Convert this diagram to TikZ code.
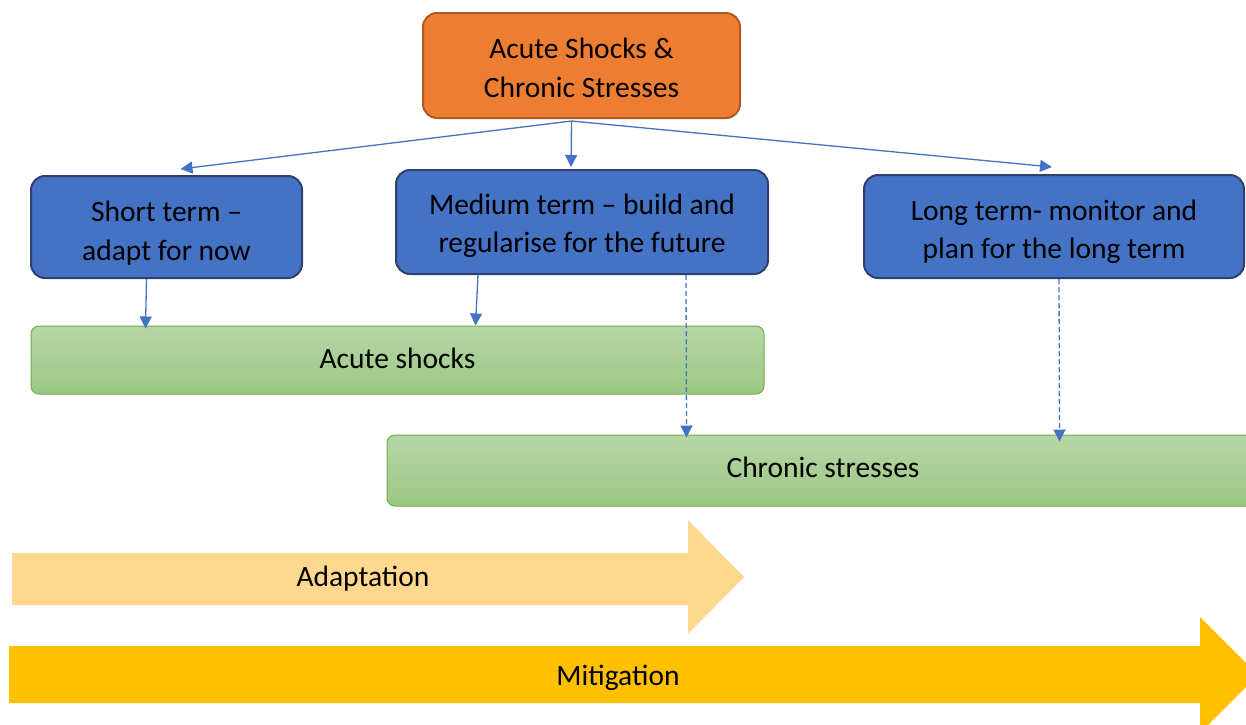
\documentclass[tikz,border=0pt]{standalone}
\usepackage{fontspec}
\setmainfont{Carlito}
\usetikzlibrary{calc,arrows.meta}
\definecolor{orangefill}{HTML}{ED7D31}
\definecolor{orangeline}{HTML}{AE5A21}
\definecolor{bluefill}{HTML}{4472C4}
\definecolor{blueline}{HTML}{2F3F6F}
\definecolor{greentop}{HTML}{B5D6A7}
\definecolor{greenbot}{HTML}{9CC883}
\definecolor{greenline}{HTML}{70AD47}
\definecolor{adaptcol}{HTML}{FFD88F}
\definecolor{mitigcol}{HTML}{FFC000}
\tikzset{
  txt/.style={font=\fontsize{29.5}{38.5}\selectfont, align=center, text=black, inner sep=0pt},
  topbox/.style={draw=orangeline, fill=orangefill, line width=2pt, rounded corners=14pt, inner sep=0pt},
  termbox/.style={draw=blueline, fill=bluefill, line width=2pt, rounded corners=14pt, inner sep=0pt},
  bar/.style={txt, draw=greenline, top color=greentop, bottom color=greenbot, line width=1pt, rounded corners=8pt, inner sep=0pt},
  conn/.style={draw=bluefill, line width=1.3pt, -{Triangle[length=12pt,width=12pt]}},
  dconn/.style={conn, dash pattern=on 5pt off 3pt},
}
\begin{document}
\begin{tikzpicture}[x=1pt,y=-1pt]
\useasboundingbox (0,0) rectangle (1246,724);
% boxes
\node[topbox, minimum width=317pt, minimum height=105pt] (top) at (581.5,65.5) {};
\node[txt] (toptext) at ($(top.center)+(0,2.5)$) {Acute Shocks \&\\Chronic Stresses};
\node[termbox, minimum width=271pt, minimum height=102pt] (short) at (166.5,227) {};
\node[txt] (shorttext) at ($(short.center)+(0,6)$) {Short term –\\adapt for now};
\node[termbox, minimum width=372pt, minimum height=104pt] (medium) at (582,222) {};
\node[txt] (mediumtext) at ($(medium.center)+(0,4)$) {Medium term – build and\\regularise for the future};
\node[termbox, minimum width=380pt, minimum height=103pt] (long) at (1054,226.5) {};
\node[txt] (longtext) at ($(long.center)+(0,5.5)$) {Long term- monitor and\\plan for the long term};
\node[bar, minimum width=733pt, minimum height=68pt] (acute) at (397.5,360) {};
\node[txt] (acutetext) at ($(acute.center)+(0,-2)$) {Acute shocks};
\node[bar, minimum width=876pt, minimum height=71pt] (chronic) at (825,470.5) {};
\node[txt] (chronictext) at (823,467) {Chronic stresses};
% big arrows
\fill[adaptcol] (12,553) -- (688,553) -- (688,520) -- (744,577) -- (688,634) -- (688,605) -- (12,605) -- cycle;
\node[txt] (adapt) at (363,579) {Adaptation};
\fill[mitigcol] (9,646) -- (1200,646) -- (1200,617) -- (1258,675) -- (1200,733) -- (1200,703) -- (9,703) -- cycle;
\node[txt] (mitig) at (618,678) {Mitigation};
% connectors
\coordinate (src) at ($(top.south)+(-10,2)$);
\draw[conn] (src) -- ($(short.north)+(14,-6)$);
\draw[conn] (src) -- ($(medium.north)+(-11,-2)$);
\draw[conn] (src) -- ($(long.north)+(-2,-7)$);
\draw[conn] ($(short.south)+(-20,0)$) -- ($(acute.north west)+(115,3)$);
\draw[conn] ($(medium.south)+(-104,0)$) -- ($(acute.north west)+(445,0)$);
\draw[dconn] ($(medium.south)+(104,0)$) -- ($(chronic.north west)+(300,3)$);
\draw[dconn] ($(long.south)+(5,0)$) -- ($(chronic.north west)+(673,7)$);
\end{tikzpicture}
\end{document}
